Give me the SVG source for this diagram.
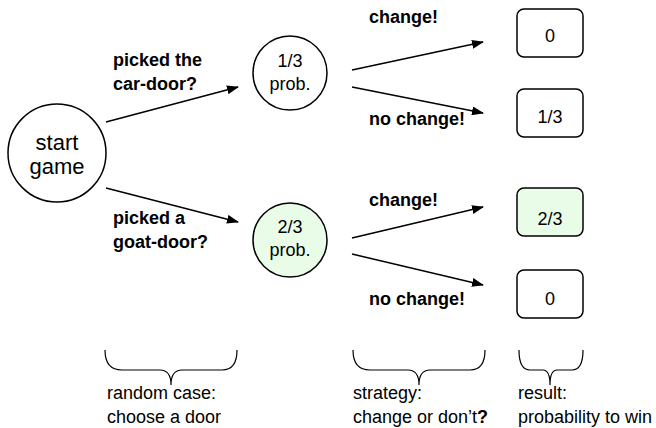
<svg xmlns="http://www.w3.org/2000/svg" width="656" height="428" viewBox="0 0 656 428">
<defs>
<style>
.n{fill:#fff;stroke:#000;stroke-width:1.5}
.g{fill:#e8fce8;stroke:#000;stroke-width:1.5}
.t{font-family:"Liberation Sans",Arial,sans-serif;fill:#000}
.c line{stroke:#000;stroke-width:1.5;marker-end:url(#ah)}
.b{fill:none;stroke:#000;stroke-width:1.2}
</style>
<marker id="ah" markerWidth="12" markerHeight="9" refX="11" refY="4.5" orient="auto" markerUnits="userSpaceOnUse">
<path d="M0,0 L12,4.5 L0,9 Z" fill="#000"/>
</marker>
</defs>
<rect width="656" height="428" fill="#fff"/>
<g id="start"><circle class="n" cx="57" cy="153" r="49"/>
<text class="t" x="57" y="150" font-size="22" text-anchor="middle">start</text>
<text class="t" x="57" y="174" font-size="22" text-anchor="middle">game</text></g>
<g id="p13"><circle class="n" cx="290" cy="73" r="37"/>
<text class="t" x="290" y="67" font-size="18" text-anchor="middle">1/3</text>
<text class="t" x="290" y="90" font-size="18" text-anchor="middle">prob.</text></g>
<g id="p23"><circle class="g" cx="290" cy="240" r="37"/>
<text class="t" x="290" y="233" font-size="18" text-anchor="middle">2/3</text>
<text class="t" x="290" y="256" font-size="18" text-anchor="middle">prob.</text></g>
<g id="r1"><rect class="n" x="517" y="9" width="66" height="48" rx="7"/>
<text class="t" x="550" y="42" font-size="18" text-anchor="middle">0</text></g>
<g id="r2"><rect class="n" x="517" y="89" width="66" height="48" rx="7"/>
<text class="t" x="550" y="123" font-size="18" text-anchor="middle">1/3</text></g>
<g id="r3"><rect class="g" x="517" y="188" width="66" height="48" rx="7"/>
<text class="t" x="550" y="225" font-size="18" text-anchor="middle">2/3</text></g>
<g id="r4"><rect class="n" x="517" y="270" width="66" height="48" rx="7"/>
<text class="t" x="550" y="305" font-size="18" text-anchor="middle">0</text></g>
<g class="c" id="connectors">
<line x1="106" y1="122" x2="238" y2="87"/>
<line x1="106" y1="188" x2="238" y2="222"/>
<line x1="352" y1="70" x2="483" y2="42"/>
<line x1="352" y1="87" x2="483" y2="113"/>
<line x1="352" y1="238" x2="483" y2="207"/>
<line x1="352" y1="254" x2="483" y2="285"/>
</g>
<g id="labels" class="t" font-size="18" font-weight="bold">
<text x="113" y="66">picked the</text>
<text x="113" y="90">car-door?</text>
<text x="113" y="224">picked a</text>
<text x="113" y="248">goat-door?</text>
<text x="369" y="23">change!</text>
<text x="369" y="125">no change!</text>
<text x="369" y="206">change!</text>
<text x="369" y="305">no change!</text>
</g>
<g id="braces">
<path class="b" d="M105,350 Q105,370 122,370 L160,370 Q171,370 171,385 Q171,370 182,370 L222,370 Q237,370 237,350"/>
<path class="b" d="M353,350 Q353,370 370,370 L408,370 Q419,370 419,385 Q419,370 430,370 L470,370 Q485,370 485,350"/>
<path class="b" d="M519,350 Q519,370 530,370 L543,370 Q550,370 550,385 Q550,370 557,370 L572,370 Q583,370 583,350"/>
</g>
<g id="captions" class="t" font-size="18">
<text x="107" y="399">random case:</text>
<text x="107" y="423">choose a door</text>
<text x="353" y="399">strategy:</text>
<text x="353" y="423">change or don’t<tspan font-weight="bold">?</tspan></text>
<text x="518" y="399">result:</text>
<text x="518" y="423">probability to win</text>
</g>
</svg>
